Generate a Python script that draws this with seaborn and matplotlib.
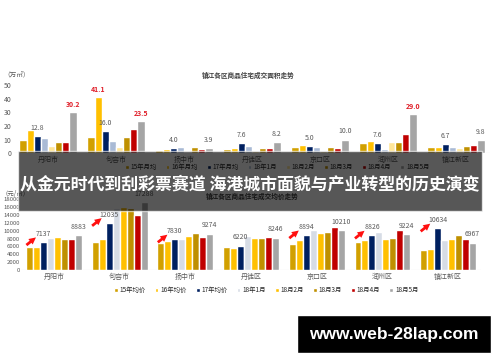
import pandas as pd
import seaborn as sns
import matplotlib.pyplot as plt
from matplotlib.patches import Rectangle

# regions and series
regions = ['丹阳市', '句容市', '扬中市', '丹徒区', '京口区', '润州区', '镇江新区']
area_series = ['15年月均', '16年月均', '17年月均', '18年1月', '18月2月', '18月3月', '18月4月', '18月5月']
price_series = ['15年均价', '16年均价', '17年均价', '18年1月', '18月2月', '18月3月', '18月4月', '18月5月']

# 成交面积 (万㎡), one list per series, regions in order above
area_15 = [9.6, 11.8, 2.2, 3.0, 4.4, 7.4, 4.4]
area_16 = [17.0, 41.1, 3.0, 3.9, 6.1, 8.9, 4.4]
area_17 = [12.8, 16.0, 4.0, 7.6, 5.0, 7.6, 6.7]
area_1801 = [11.5, 9.1, 4.9, 5.6, 4.6, 3.4, 4.4]
area_1802 = [5.6, 4.6, 1.2, 1.5, 1.5, 8.1, 4.0]
area_1803 = [8.4, 11.8, 4.4, 4.2, 4.4, 8.6, 5.2]
area_1804 = [8.3, 17.8, 3.2, 4.2, 3.6, 14.3, 5.9]
area_1805 = [30.2, 23.5, 3.9, 8.2, 10.0, 29.0, 9.8]

# 成交均价 (元/㎡)
price_15 = [5900, 7070, 6870, 5840, 6700, 7120, 5060]
price_16 = [5900, 8000, 7380, 5580, 7550, 7730, 5240]
price_17 = [7137, 12035, 7830, 6220, 8894, 8826, 10634]
price_1801 = [8250, 15660, 7810, 8700, 10300, 9700, 7730]
price_1802 = [8340, 16000, 8580, 8150, 9440, 7900, 7900]
price_1803 = [7830, 15830, 9440, 8150, 9700, 8150, 8930]
price_1804 = [7830, 13980, 8500, 8500, 10900, 10130, 7980]
price_1805 = [8883, 17288, 9274, 8246, 10210, 9224, 6967]

area_colors = ['#D1A000', '#FFC000', '#002060', '#A9BAD5', '#FFE699', '#BF9000', '#C00000', '#A5A5A5']
price_colors = ['#D1A000', '#FFC000', '#002060', '#D6DCE5', '#FFC000', '#BF9000', '#C00000', '#A5A5A5']

banner_text = '从金元时代到刮彩票赛道 海港城市面貌与产业转型的历史演变'


def to_long(series_names, lists):
    rows = []
    for name, vals in zip(series_names, lists):
        for reg, v in zip(regions, vals):
            rows.append({'region': reg, 'series': name, 'value': v})
    return pd.DataFrame(rows)


area_df = to_long(area_series, [area_15, area_16, area_17, area_1801,
                                area_1802, area_1803, area_1804, area_1805])
price_df = to_long(price_series, [price_15, price_16, price_17, price_1801,
                                  price_1802, price_1803, price_1804, price_1805])

sns.set_style('white')
plt.rcParams['font.family'] = ['Noto Sans CJK SC', 'DejaVu Sans']

fig = plt.figure(figsize=(5, 3.62), dpi=100)
W, H = 500, 362
tick_col = '#595959'


def style_axes(ax):
    for s in ax.spines.values():
        s.set_visible(False)
    ax.axhline(0, color='#D9D9D9', lw=0.8, zorder=0)
    ax.tick_params(length=0, labelsize=5, colors=tick_col, pad=2)
    ax.set_xlabel('')
    ax.set_ylabel('')
    ax.set_xlim(-0.5, len(regions) - 0.5)


# top chart: area
ax1 = fig.add_axes([14 / W, 1 - 153.3 / H, 476 / W, 68.3 / H])
sns.barplot(data=area_df, x='region', y='value', hue='series', palette=area_colors,
            width=0.84, saturation=1, ax=ax1)
style_axes(ax1)
ax1.set_ylim(0, 50)
ax1.set_yticks(range(0, 51, 10))

ax1.bar_label(ax1.containers[2], fmt='%.1f', fontsize=5, color=tick_col, padding=3)
lab16 = ['' for _ in regions]
lab16[1] = '41.1'
ax1.bar_label(ax1.containers[1], labels=lab16, fontsize=5, color='#E0202A',
              padding=3, fontweight='bold')
last = ax1.bar_label(ax1.containers[7], fmt='%.1f', fontsize=5, padding=3)
for t, v in zip(last, area_1805):
    if v > 20:
        t.set_color('#E0202A')
        t.set_fontweight('bold')
    else:
        t.set_color(tick_col)

sns.move_legend(ax1, 'center', bbox_to_anchor=(277 / W, 1 - 167 / H),
                bbox_transform=fig.transFigure, ncol=8, frameon=False, title=None,
                fontsize=4.6, handlelength=0.6, handleheight=0.6, handletextpad=0.3,
                columnspacing=1.4)

# bottom chart: price
ax2 = fig.add_axes([21 / W, 1 - 270 / H, 460 / W, 70.7 / H])
sns.barplot(data=price_df, x='region', y='value', hue='series', palette=price_colors,
            width=0.85, saturation=1, ax=ax2)
style_axes(ax2)
ax2.tick_params(axis='y', labelsize=4.3, pad=1)
ax2.set_ylim(0, 18000)
ax2.set_yticks(range(0, 18001, 2000))

ax2.bar_label(ax2.containers[2], fontsize=5, color=tick_col, padding=3)
ax2.bar_label(ax2.containers[7], fontsize=5, color=tick_col, padding=3)

# red arrows pointing at 17年均价 labels
for i, bar in enumerate(ax2.containers[2]):
    if i == 3:
        continue
    x = bar.get_x() + bar.get_width() / 2 - 0.08
    y = bar.get_height() + 1600
    ax2.annotate('', xy=(x, y), xytext=(-10, -8), textcoords='offset points',
                 arrowprops=dict(arrowstyle='simple,head_length=0.5,head_width=0.5,tail_width=0.2',
                                 fc='#FF1010', ec='none'))

sns.move_legend(ax2, 'center', bbox_to_anchor=(266 / W, 1 - 290 / H),
                bbox_transform=fig.transFigure, ncol=8, frameon=False, title=None,
                fontsize=4.6, handlelength=0.6, handleheight=0.6, handletextpad=0.3,
                columnspacing=1.4)

# titles and units
fig.text(248 / W, 1 - 75 / H, '镇江各区商品住宅成交面积走势', fontsize=4.8,
         fontweight='bold', color='#404040', ha='center', va='center')
fig.text(252 / W, 1 - 196 / H, '镇江各区商品住宅成交均价走势', fontsize=4.8,
         fontweight='bold', color='#404040', ha='center', va='center')
fig.text(3 / W, 1 - 75 / H, '（万㎡）', fontsize=4.8, color=tick_col, va='center')
fig.text(2 / W, 1 - 194 / H, '（元/㎡）', fontsize=4.6, color=tick_col, va='center')

# overlay banner
fig.patches.append(Rectangle((18 / W, 1 - 211 / H), 464 / W, 60 / H,
                             transform=fig.transFigure, fc='black', alpha=0.66, zorder=10))
fig.text(250 / W, 1 - 184 / H, banner_text, fontsize=12.2, fontweight='bold',
         color='white', ha='center', va='center', zorder=11)

# watermark box
fig.patches.append(Rectangle((297 / W, 1 - 353 / H), 194 / W, 38 / H,
                             transform=fig.transFigure, fc='black', zorder=10))
fig.text(394 / W, 1 - 334 / H, 'www.web-28lap.com', fontsize=12.5, fontweight='bold',
         family=['Liberation Sans', 'DejaVu Sans'], color='white',
         ha='center', va='center', zorder=11)

fig.savefig('out.png', dpi=100)
